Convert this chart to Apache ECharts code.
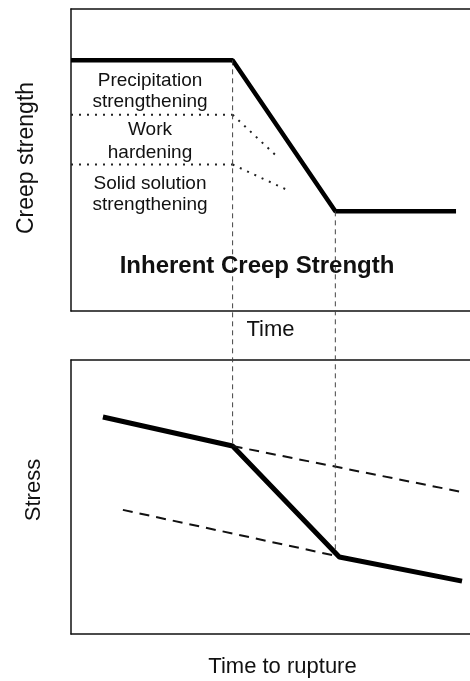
<!DOCTYPE html>
<html>
<head>
<meta charset="utf-8">
<script src="https://cdn.jsdelivr.net/npm/echarts@6/dist/echarts.min.js"></script>
<style>
html,body{margin:0;padding:0;background:#fff;}
#c{width:470px;height:681px;}
</style>
</head>
<body>
<div id="c"></div>
<script>
// ---------- data (abstract units, 0..100 on each axis) ----------
// Top panel: creep strength vs time
const creepX = [0, 40.5, 66.25, 96.5];
const creepY = [83, 83, 33, 33];
const precipBoundX = [0, 40.5];
const precipBoundY = [65, 65];
const workBoundX = [0, 40.5];
const workBoundY = [48.5, 48.5];
const precipDecayX = [40.5, 51.2];
const precipDecayY = [65, 51.7];
const workDecayX = [40.5, 54.8];
const workDecayY = [48.5, 39.7];
// Bottom panel: stress vs time to rupture
const stressX = [8, 40.5, 67.25, 98];
const stressY = [79.2, 68.6, 28.1, 19.3];
const upperDashX = [40.5, 98];
const upperDashY = [68.6, 51.8];
const lowerDashX = [13, 65.5];
const lowerDashY = [45.3, 28.8];
// vertical guide lines linking the two panels
const guideX = [40.5, 66.25];
const guideTopY = [83, 33];
const guideBottomY = [68.6, 30];
// texts
const topYName = 'Creep strength';
const topXName = 'Time';
const botYName = 'Stress';
const botXName = 'Time to rupture';
const regionLabels = ['Precipitation\nstrengthening', 'Work\nhardening', 'Solid solution\nstrengthening'];
const mainLabel = 'Inherent Creep Strength';

const zip = (xs, ys) => xs.map((x, i) => [x, ys[i]]);
const FONT = '"Liberation Sans", Arial, Helvetica, sans-serif';

const chart = echarts.init(document.getElementById('c'), null, {renderer: 'canvas'});

const frameLine = {show: true, onZero: false, lineStyle: {color: '#111', width: 1.5}};
const hiddenAxis = (extra) => Object.assign({
  type: 'value', min: 0, max: 100,
  axisLine: {show: false}, axisTick: {show: false},
  axisLabel: {show: false}, splitLine: {show: false}
}, extra);

const nameStyle = {fontFamily: FONT, fontSize: 22, color: '#111'};

const lineS = (xi, yi, pts, style) => ({
  type: 'line', xAxisIndex: xi, yAxisIndex: yi, data: pts,
  symbol: 'none', silent: true, animation: false,
  lineStyle: style, z: 5
});

const dotted = {color: '#222', width: 2, type: [2, 6]};

const option = {
  backgroundColor: '#fff',
  animation: false,
  grid: [
    {left: 71, right: 0, top: 9, height: 302, show: false},
    {left: 71, right: 0, top: 360, height: 274, show: false},
    {left: 71, right: 0, top: 0, height: 681, show: false}
  ],
  xAxis: [
    hiddenAxis({gridIndex: 0, position: 'bottom', axisLine: frameLine, name: topXName, nameLocation: 'middle', nameGap: 8, nameTextStyle: nameStyle}),
    hiddenAxis({gridIndex: 1, position: 'bottom', axisLine: frameLine, name: botXName, nameLocation: 'middle', nameGap: 22, nameTextStyle: Object.assign({padding: [0, 0, 0, 24]}, nameStyle)}),
    hiddenAxis({gridIndex: 2}),
    hiddenAxis({gridIndex: 0, position: 'top', axisLine: frameLine}),
    hiddenAxis({gridIndex: 1, position: 'top', axisLine: frameLine})
  ],
  yAxis: [
    hiddenAxis({gridIndex: 0, position: 'left', axisLine: frameLine, name: topYName, nameLocation: 'middle', nameGap: 33, nameTextStyle: Object.assign({}, nameStyle, {fontSize: 23, padding: [0, 0, 0, 4]})}),
    hiddenAxis({gridIndex: 1, position: 'left', axisLine: frameLine, name: botYName, nameLocation: 'middle', nameGap: 26, nameTextStyle: Object.assign({}, nameStyle, {padding: [0, 0, 0, 14]})}),
    hiddenAxis({gridIndex: 2})
  ],
  series: [
    lineS(0, 0, zip(creepX, creepY), {color: '#000', width: 4.5}),
    lineS(0, 0, zip(precipBoundX, precipBoundY), dotted),
    lineS(0, 0, zip(workBoundX, workBoundY), dotted),
    lineS(0, 0, zip(precipDecayX, precipDecayY), dotted),
    lineS(0, 0, zip(workDecayX, workDecayY), dotted),
    lineS(1, 1, zip(stressX, stressY), {color: '#000', width: 5}),
    lineS(1, 1, zip(upperDashX, upperDashY), {color: '#111', width: 2, type: [10, 7]}),
    lineS(1, 1, zip(lowerDashX, lowerDashY), {color: '#111', width: 2, type: [10, 7]})
  ],
  graphic: [
    {type: 'text', z: 10, silent: true,
     style: {text: regionLabels[0], x: 150, y: 91, fontFamily: FONT, fontSize: 19, lineHeight: 21, fill: '#111', align: 'center', verticalAlign: 'middle'}},
    {type: 'text', z: 10, silent: true,
     style: {text: regionLabels[1], x: 150, y: 141, fontFamily: FONT, fontSize: 19, lineHeight: 23, fill: '#111', align: 'center', verticalAlign: 'middle'}},
    {type: 'text', z: 10, silent: true,
     style: {text: regionLabels[2], x: 150, y: 194, fontFamily: FONT, fontSize: 19, lineHeight: 21, fill: '#111', align: 'center', verticalAlign: 'middle'}},
    {type: 'text', z: 10, silent: true,
     style: {text: mainLabel, x: 257, y: 266, fontFamily: FONT, fontSize: 24, fontWeight: 'bold', fill: '#111', align: 'center', verticalAlign: 'middle'}}
  ]
};

chart.setOption(option);

// vertical guide lines: connect the kink points of both panels through the library's scales
const guideSeries = guideX.map((gx, i) => {
  const pTop = chart.convertToPixel({gridIndex: 0}, [gx, guideTopY[i]]);
  const pBot = chart.convertToPixel({gridIndex: 1}, [gx, guideBottomY[i]]);
  const a = chart.convertFromPixel({gridIndex: 2}, pTop);
  const b = chart.convertFromPixel({gridIndex: 2}, pBot);
  return lineS(2, 2, [a, b], {color: '#444', width: 1, type: [5, 4]});
});
chart.setOption({series: option.series.concat(guideSeries)});
</script>
</body>
</html>
